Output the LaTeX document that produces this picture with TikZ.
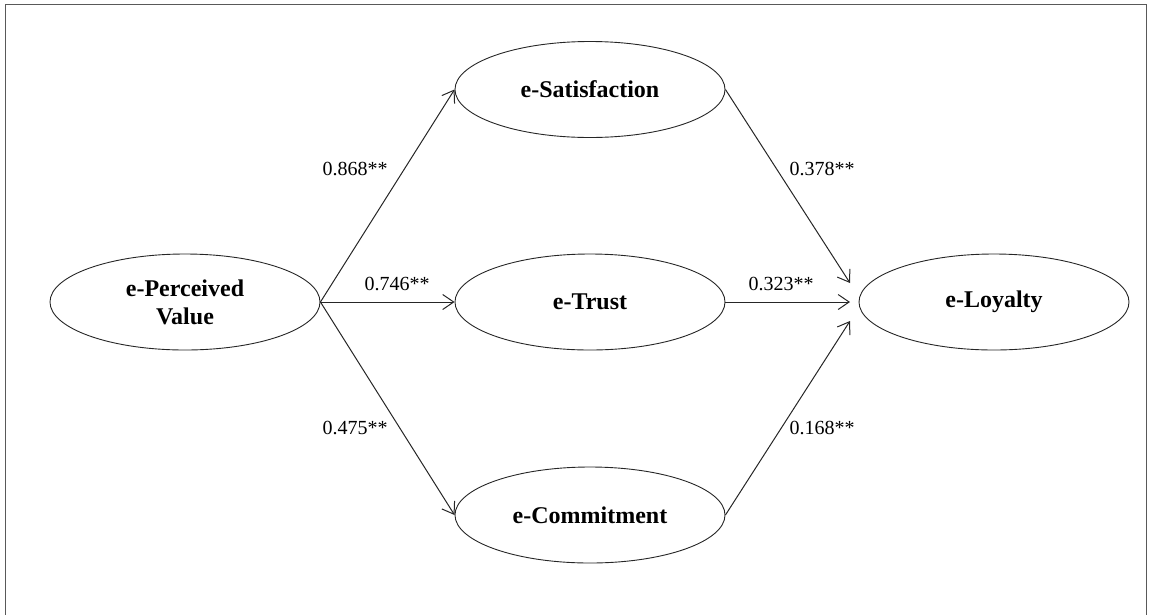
\documentclass[tikz,border=0pt]{standalone}
\usepackage{fontspec}
\setmainfont{Liberation Serif}
\usetikzlibrary{shapes.geometric,arrows.meta}
\begin{document}
\begin{tikzpicture}[x=1pt,y=-1pt,
  construct/.style={draw=black!85, line width=0.9pt, ellipse, minimum width=270pt, minimum height=96pt, inner sep=0pt, align=center, font=\fontsize{24}{28}\selectfont\bfseries},
  path/.style={draw=black!85, line width=1pt, -{Straight Barb[length=11pt,width=15pt,line width=1pt]}},
  coef/.style={font=\fontsize{20}{24}\selectfont, inner sep=0pt}]
\useasboundingbox (0,0) rectangle (1151,614);
\draw[black!65, line width=1.3pt] (5.5,4.5) rectangle (1146.5,640);
\node[construct] (pv) at (185,302) {e-Perceived\\Value};
\node[construct] (sat) at (590,89.5) {e-Satisfaction};
\node[construct] (tru) at (590,302) {e-Trust};
\node[construct] (com) at (590,515) {e-Commitment};
\node[construct] (loy) at (994,302) {e-Loyalty};
\coordinate (l1) at (850,283);
\coordinate (l2) at (850,302);
\coordinate (l3) at (850,321);
\draw[path] (pv.east) -- (sat.west);
\draw[path] (pv.east) -- (tru.west);
\draw[path] (pv.east) -- (com.west);
\draw[path] (sat.east) -- (l1);
\draw[path] (tru.east) -- (l2);
\draw[path] (com.east) -- (l3);
\node[coef] (c1) at (355,169) {0.868**};
\node[coef] (c2) at (397,284) {0.746**};
\node[coef] (c3) at (355,428) {0.475**};
\node[coef] (c4) at (822,169) {0.378**};
\node[coef] (c5) at (781,284) {0.323**};
\node[coef] (c6) at (822,428) {0.168**};
\end{tikzpicture}
\end{document}
